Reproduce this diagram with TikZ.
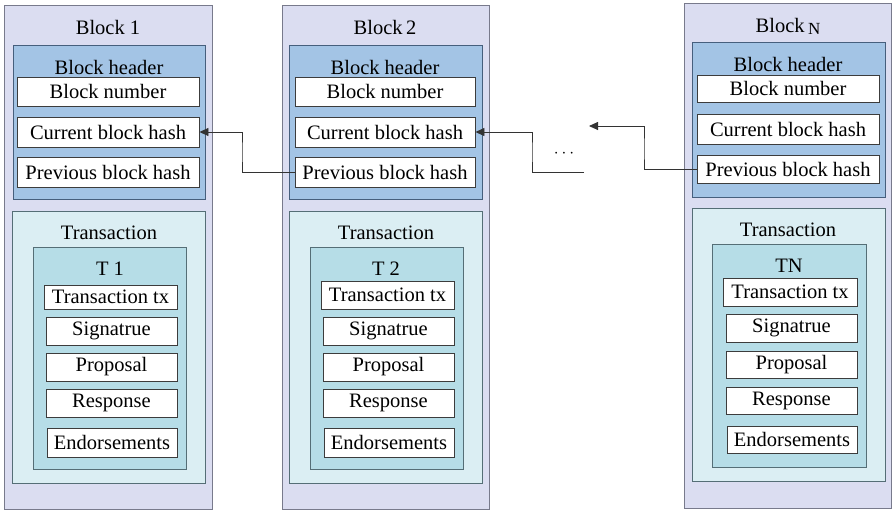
\documentclass[tikz,border=0pt]{standalone}
\usepackage{fontspec}
\setmainfont{Liberation Serif}
\usetikzlibrary{fit,arrows.meta}
\definecolor{outerfill}{RGB}{219,221,241}
\definecolor{outerdraw}{RGB}{120,122,140}
\definecolor{headfill}{RGB}{163,196,229}
\definecolor{headdraw}{RGB}{70,95,125}
\definecolor{txfill}{RGB}{219,238,243}
\definecolor{txdraw}{RGB}{85,110,118}
\definecolor{tfill}{RGB}{182,221,231}
\definecolor{fielddraw}{RGB}{60,60,60}
\tikzset{
  every node/.style={font=\fontsize{20.5}{22}\selectfont, text=black},
  frame/.style={inner sep=0pt, line width=0.9pt},
  outerbox/.style={frame, draw=outerdraw, fill=outerfill},
  headbox/.style={frame, draw=headdraw, fill=headfill},
  txbox/.style={frame, draw=txdraw, fill=txfill},
  tbox/.style={frame, draw=txdraw, fill=tfill},
  field/.style={frame, draw=fielddraw, fill=white},
  ftext/.style={label={[inner sep=0pt]center:#1}},
  title/.style={inner sep=0pt},
  link/.style={draw=black!80, line width=0.9pt, -{Triangle[length=9pt,width=8pt]}},
  plain/.style={draw=black!80, line width=0.9pt}
}
\begin{document}
\begin{tikzpicture}[x=1pt,y=-1pt]
\useasboundingbox (0,0) rectangle (892,512);
% ---------- Block 1 ----------
\node[outerbox, fit={(4,5)(212,509)}] (b1) {};
\node[title] (b1t) at (108,27) {Block 1};
\node[headbox, fit={(13,45)(205,199)}] (b1h) {};
\node[title] (b1ht) at (109,67) {Block header};
\node[field, fit={(17,77)(199,106)}, ftext={Block number}] (b1num) {};
\node[field, fit={(17,117)(199,147)}, ftext={Current block hash}] (b1cur) {};
\node[field, fit={(17,157)(199,187)}, ftext={Previous block hash}] (b1prev) {};
\node[txbox, fit={(12,211)(205,483)}] (b1tx) {};
\node[title] (b1txt) at (109,233) {Transaction};
\node[tbox, fit={(33,247)(186,469)}] (b1T) {};
\node[title] (b1Tt) at (110,269) {T 1};
\node[field, fit={(44,285)(177,309)}, ftext={Transaction tx}] (b1f1) {};
\node[field, fit={(46,317)(177,345)}, ftext={Signatrue}] (b1f2) {};
\node[field, fit={(46,353)(177,381)}, ftext={Proposal}] (b1f3) {};
\node[field, fit={(46,389)(177,417)}, ftext={Response}] (b1f4) {};
\node[field, fit={(47,428)(177,457)}, ftext={Endorsements}] (b1f5) {};
% ---------- Block 2 ----------
\node[outerbox, fit={(282,5)(489,509)}] (b2) {};
\node[title] (b2t) at (385,27) {Block\,2};
\node[headbox, fit={(289,45)(482,199)}] (b2h) {};
\node[title] (b2ht) at (385,67) {Block header};
\node[field, fit={(295,77)(475,106)}, ftext={Block number}] (b2num) {};
\node[field, fit={(295,117)(475,147)}, ftext={Current block hash}] (b2cur) {};
\node[field, fit={(295,157)(475,187)}, ftext={Previous block hash}] (b2prev) {};
\node[txbox, fit={(289,211)(482,483)}] (b2tx) {};
\node[title] (b2txt) at (386,233) {Transaction};
\node[tbox, fit={(310,247)(463,469)}] (b2T) {};
\node[title] (b2Tt) at (386,269) {T 2};
\node[field, fit={(321,281)(454,309)}, ftext={Transaction tx}] (b2f1) {};
\node[field, fit={(323,317)(454,345)}, ftext={Signatrue}] (b2f2) {};
\node[field, fit={(323,353)(454,381)}, ftext={Proposal}] (b2f3) {};
\node[field, fit={(323,389)(454,417)}, ftext={Response}] (b2f4) {};
\node[field, fit={(324,428)(454,457)}, ftext={Endorsements}] (b2f5) {};
% ---------- Block N ----------
\node[outerbox, fit={(684,3)(891,508)}] (bN) {};
\node[title] (bNt) at (788,26) {Block\,{\fontsize{17}{17}\selectfont\raisebox{-2pt}{N}}};
\node[headbox, fit={(692,42)(885,197)}] (bNh) {};
\node[title] (bNht) at (788,64) {Block header};
\node[field, fit={(697,75)(879,102)}, ftext={Block number}] (bNnum) {};
\node[field, fit={(697,114)(879,144)}, ftext={Current block hash}] (bNcur) {};
\node[field, fit={(697,155)(879,183)}, ftext={Previous block hash}] (bNprev) {};
\node[txbox, fit={(692,208)(885,481)}] (bNtx) {};
\node[title] (bNtxt) at (788,230) {Transaction};
\node[tbox, fit={(712,244)(866,467)}] (bNT) {};
\node[title] (bNTt) at (789,266) {TN};
\node[field, fit={(723,278)(857,306)}, ftext={Transaction tx}] (bNf1) {};
\node[field, fit={(726,314)(857,342)}, ftext={Signatrue}] (bNf2) {};
\node[field, fit={(726,351)(857,378)}, ftext={Proposal}] (bNf3) {};
\node[field, fit={(726,387)(857,414)}, ftext={Response}] (bNf4) {};
\node[field, fit={(727,426)(857,453)}, ftext={Endorsements}] (bNf5) {};
% ---------- links ----------
\coordinate (m1) at (242,152);
\draw[link] (b2prev.west) -| (m1) |- (b1cur.east);
\coordinate (e1) at (584,172);
\coordinate (m2) at (532,152);
\draw[link] (e1) -| (m2) |- (b2cur.east);
\coordinate (e2) at (589,126);
\coordinate (m3) at (644,150);
\draw[link] (bNprev.west) -| (m3) |- (e2);
\node[title, font=\fontsize{18}{18}\selectfont] (dots) at (564,154) {$\cdots$};
\end{tikzpicture}
\end{document}
